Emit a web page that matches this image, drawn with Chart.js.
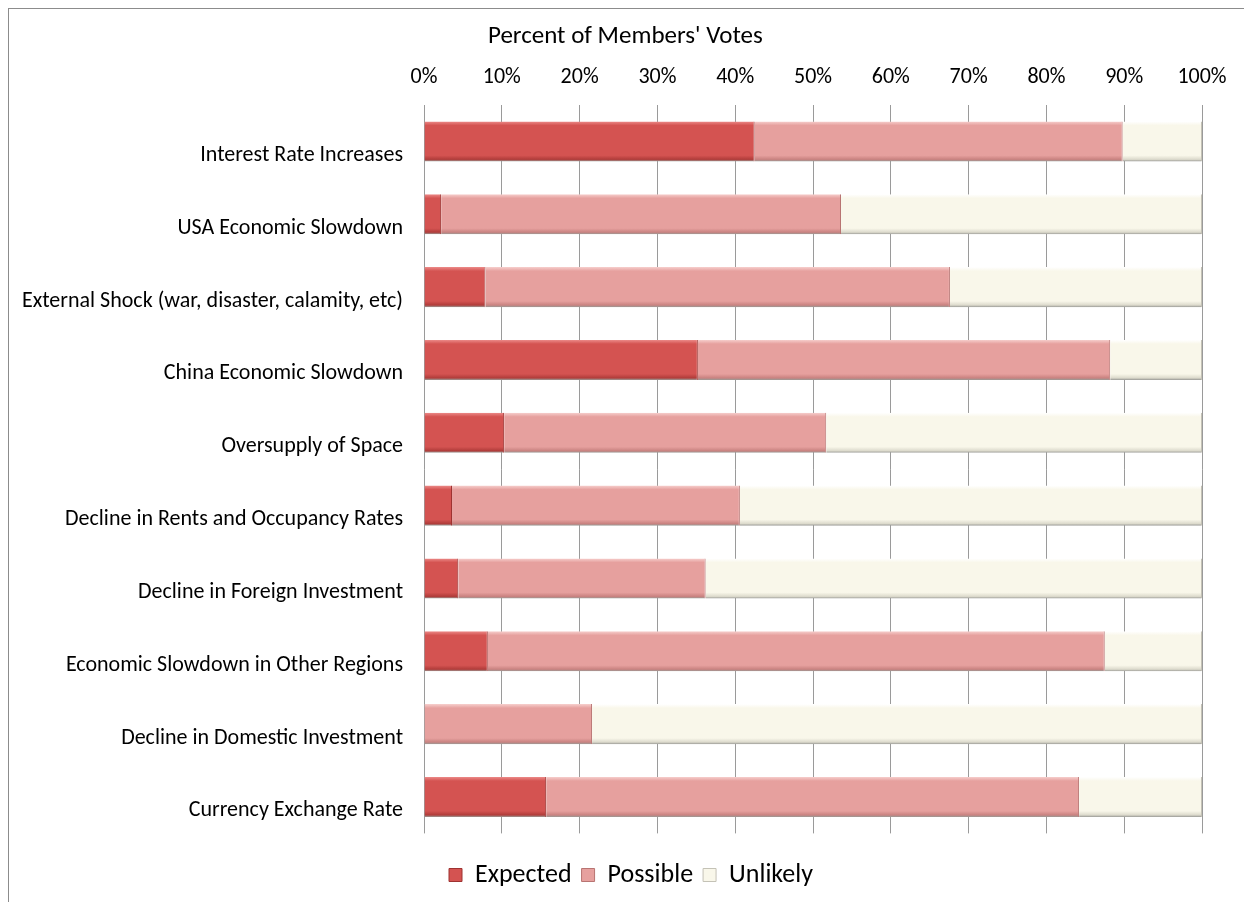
<!DOCTYPE html>
<html>
<head>
<meta charset="utf-8">
<title>Percent of Members' Votes</title>
<script src="https://cdn.jsdelivr.net/npm/chart.js@4/dist/chart.umd.min.js"></script>
<style>
    html, body { margin: 0; padding: 0; background: #fff; overflow: hidden; }
    #frame {
        position: absolute; left: 8px; top: 8px;
        width: 1300px; height: 1000px;
        border: 1px solid #8c8c8c;
        pointer-events: none;
    }
    #wrap { position: absolute; left: 0; top: 0; width: 1244px; height: 902px; }
</style>
</head>
<body>
<div id="wrap"><canvas id="votesChart"></canvas></div>
<div id="frame"></div>
<script>
// 데이터 (그림에서 읽은 값, %)
const categories = [
    'Interest Rate Increases',
    'USA Economic Slowdown',
    'External Shock (war, disaster, calamity, etc)',
    'China Economic Slowdown',
    'Oversupply of Space',
    'Decline in Rents and Occupancy Rates',
    'Decline in Foreign Investment',
    'Economic Slowdown in Other Regions',
    'Decline in Domestic Investment',
    'Currency Exchange Rate'
];
const expected = [42.5, 2.2, 7.9, 35.2, 10.3, 3.6, 4.4, 8.2, 0, 15.7];
const possible = [47.3, 51.4, 59.7, 53.0, 41.4, 37.0, 31.8, 79.3, 21.6, 68.5];
const unlikely = [10.2, 46.4, 32.4, 11.8, 48.3, 59.4, 63.8, 12.5, 78.4, 15.8];
const xTickLabels = ['0%', '10%', '20%', '30%', '40%', '50%', '60%', '70%', '80%', '90%', '100%'];

const FONT = 'Calibri, Carlito, Lato, sans-serif';

const SERIES_COLORS = {
    Expected: { base: '#d45351', light: '#ec8a88', dark: '#b03c3a', edge: '#9e3331' },
    Possible: { base: '#e6a09e', light: '#f6cecc', dark: '#c98280', edge: '#b87472' },
    Unlikely: { base: '#f9f7ea', light: '#ffffff', dark: '#dcdacc', edge: '#c4c2b6' }
};

// 막대에 엑셀 느낌의 입체 그라데이션을 준다
function barFill(col) {
    return function(ctx) {
        if (ctx.type !== 'data' || typeof ctx.dataIndex !== 'number') return col.base;
        const chart = ctx.chart;
        const yScale = chart.scales.y;
        if (!yScale || !yScale.height) return col.base;
        const cy = yScale.getPixelForValue(ctx.dataIndex);
        if (!isFinite(cy)) return col.base;
        const half = 20;
        const g = chart.ctx.createLinearGradient(0, cy - half, 0, cy + half);
        g.addColorStop(0, col.light);
        g.addColorStop(0.1, col.base);
        g.addColorStop(0.85, col.base);
        g.addColorStop(0.95, col.dark);
        g.addColorStop(1, '#9a9a96');
        return g;
    };
}

// 왼쪽 위 축 제목
const axisTitlePlugin = {
    id: 'axisTitle',
    afterDraw(chart) {
        const c = chart.ctx;
        c.save();
        c.font = '25px ' + FONT;
        c.fillStyle = '#000';
        c.textAlign = 'left';
        c.textBaseline = 'middle';
        c.fillText("Percent of Members' Votes", chart.chartArea.left + 64, 37);
        c.restore();
    }
};

const ctx = document.getElementById('votesChart').getContext('2d');

new Chart(ctx, {
    type: 'bar',
    data: {
        labels: categories,
        datasets: [
            {
                label: 'Expected',
                data: expected,
                backgroundColor: barFill(SERIES_COLORS.Expected),
                borderColor: SERIES_COLORS.Expected.edge,
                borderWidth: { top: 0, left: 0, bottom: 0, right: 1 }
            },
            {
                label: 'Possible',
                data: possible,
                backgroundColor: barFill(SERIES_COLORS.Possible),
                borderColor: SERIES_COLORS.Possible.edge,
                borderWidth: { top: 0, left: 0, bottom: 0, right: 1 }
            },
            {
                label: 'Unlikely',
                data: unlikely,
                backgroundColor: barFill(SERIES_COLORS.Unlikely),
                borderColor: SERIES_COLORS.Unlikely.edge,
                borderWidth: { top: 0, left: 0, bottom: 0, right: 1 }
            }
        ]
    },
    options: {
        indexAxis: 'y',
        responsive: true,
        maintainAspectRatio: false,
        animation: false,
        datasets: {
            bar: { categoryPercentage: 1.0, barPercentage: 0.55 }
        },
        layout: {
            padding: { left: 18, right: 0, top: 0, bottom: 4 }
        },
        plugins: {
            legend: {
                position: 'bottom',
                title: { display: true, text: '', padding: 0, font: { size: 15.5 } },
                labels: {
                    boxWidth: 13,
                    boxHeight: 13,
                    padding: 10,
                    color: '#000',
                    font: { family: FONT, size: 26 },
                    generateLabels: function(chart) {
                        return chart.data.datasets.map(function(ds, i) {
                            const col = SERIES_COLORS[ds.label];
                            return {
                                text: ds.label,
                                fillStyle: col.base,
                                strokeStyle: col.edge,
                                lineWidth: 1,
                                fontColor: '#000',
                                hidden: !chart.isDatasetVisible(i),
                                datasetIndex: i
                            };
                        });
                    }
                }
            },
            tooltip: { enabled: false }
        },
        scales: {
            x: {
                position: 'top',
                stacked: true,
                min: 0,
                max: 100,
                afterFit: function(axis) {
                    axis.height = 105;
                },
                grid: {
                    color: '#9a9a9a',
                    lineWidth: 1,
                    drawTicks: false
                },
                border: { display: false },
                ticks: {
                    stepSize: 10,
                    padding: 14,
                    color: '#000',
                    font: { family: FONT, size: 22 },
                    maxRotation: 0,
                    callback: function(value, index) {
                        return xTickLabels[index];
                    }
                }
            },
            y: {
                stacked: true,
                afterFit: function(axis) {
                    axis.width = 406;
                },
                grid: { display: false, drawTicks: false },
                border: { display: false },
                ticks: {
                    padding: 21,
                    labelOffset: 14,
                    color: '#000',
                    font: { family: FONT, size: 22 },
                    autoSkip: false
                }
            },
            // 오른쪽 여백용 빈 축
            yRight: {
                type: 'category',
                position: 'right',
                afterFit: function(axis) {
                    axis.width = 42;
                },
                grid: { display: false, drawTicks: false },
                border: { display: false },
                ticks: { display: false }
            }
        }
    },
    plugins: [axisTitlePlugin]
});
</script>
</body>
</html>
